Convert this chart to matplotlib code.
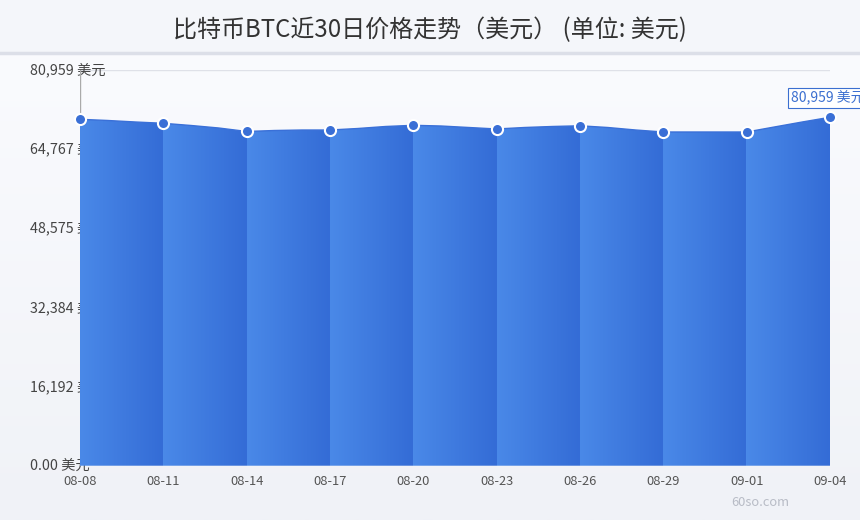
import numpy as np
import matplotlib
matplotlib.use("Agg")
import matplotlib.pyplot as plt
import matplotlib.transforms as mtransforms
from matplotlib.colors import LinearSegmentedColormap
from matplotlib.patches import Polygon

plt.rcParams['font.family'] = ['Noto Sans CJK SC', 'DejaVu Sans']

# 数据
dates = ['08-08', '08-09', '08-10', '08-11', '08-12', '08-13', '08-14',
         '08-15', '08-16', '08-17', '08-18', '08-19', '08-20', '08-21',
         '08-22', '08-23', '08-24', '08-25', '08-26', '08-27', '08-28',
         '08-29', '08-30', '08-31', '09-01', '09-02', '09-03', '09-04']
prices = [70870, 70630, 70320, 70055, 69605, 69090, 68380,
          68580, 68680, 68680, 68990, 69400, 69645, 69500,
          69195, 68890, 69195, 69400, 69545, 69195, 68685,
          68275, 68275, 68275, 68275, 69300, 70320, 71285]
y_ticks = [0, 16192, 32384, 48575, 64767, 80959]
y_labels = ['0.00 美元', '16,192 美元', '32,384 美元', '48,575 美元', '64,767 美元', '80,959 美元']
y_max = 80959
title = '比特币BTC近30日价格走势（美元） (单位: 美元)'
last_label = '80,959 美元'
step = 3

W, H = 860, 520
fig = plt.figure(figsize=(W / 100, H / 100), dpi=100)

# 背景
bg = fig.add_axes([0, 0, 1, 1], zorder=-10)
bg.axis('off')
bg_cmap = LinearSegmentedColormap.from_list('bg', ['#fafbfe', '#f0f2f7'])
bg.imshow(np.linspace(0, 1, 256).reshape(-1, 1), cmap=bg_cmap, aspect='auto',
          extent=[0, 1, 0, 1 - 54 / H])
bg.axhspan(1 - 52 / H, 1, color='#f4f6fa')
bg.axhline(1 - 53 / H, color='#dcdfe8', lw=2.5)
bg.set_xlim(0, 1)
bg.set_ylim(0, 1)

fig.text(0.5, 1 - 30 / H, title, ha='center', va='center', fontsize=17.3, color='#333333')

# 主图
ax = fig.add_axes([80 / W, 54.3 / H, 750 / W, 395.7 / H])
ax.patch.set_alpha(0)
x = np.arange(len(dates))
n = len(x)

# 每段一个横向渐变，整体用一个面积多边形裁剪
seg_cmap = LinearSegmentedColormap.from_list('seg', ['#4a89e8', '#346cd6'])
xs = np.linspace(0, n - 1, 3000)
frac = (xs % step) / step
frac[-1] = 1.0
area = Polygon([(x[0], 0)] + list(zip(x, prices)) + [(x[-1], 0)], closed=True,
               facecolor='none', edgecolor='none')
ax.add_patch(area)
im = ax.imshow(frac.reshape(1, -1), cmap=seg_cmap, aspect='auto',
               extent=[x[0], x[-1], 0, y_max], zorder=2, interpolation='nearest')
im.set_clip_path(area)

ax.plot(x, prices, color='#3a70d8', lw=1, zorder=3)
ax.plot(x[::step], [prices[i] for i in range(0, n, step)], 'o', ms=8,
        mfc='#3a6fd6', mec='white', mew=1.5, zorder=4, clip_on=False)

for t in y_ticks:
    ax.axhline(t, color='#dfe1e8', lw=1, zorder=1)
ax.axvline(0, color='#aaaaaa', lw=1, zorder=1.5)

ax.set_xlim(0, n - 1)
ax.set_ylim(0, y_max)
for sp in ax.spines.values():
    sp.set_visible(False)

ax.set_yticks([])
trans = mtransforms.blended_transform_factory(fig.transFigure, ax.transData)
for t, lab in zip(y_ticks, y_labels):
    ax.text(30 / W, t, lab, transform=trans, ha='left', va='center',
            fontsize=10.3, color='#444444', clip_on=False, zorder=1)

ax.set_xticks(x[::step])
ax.set_xticklabels(dates[::step])
ax.tick_params(axis='x', length=0, labelsize=9.3, colors='#555555', pad=6.5)

# 标注
fig.text(791 / W, 1 - 98 / H, last_label, fontsize=10, color='#3b6fd0', ha='left', va='center',
         bbox=dict(boxstyle='square,pad=0.2', fc='white', ec='#3b6fd0', lw=0.8))
fig.text(760 / W, 1 - 503 / H, '60so.com', fontsize=9.3, color='#b8bcc6', ha='center', va='center')

fig.savefig('out.png', dpi=100)
